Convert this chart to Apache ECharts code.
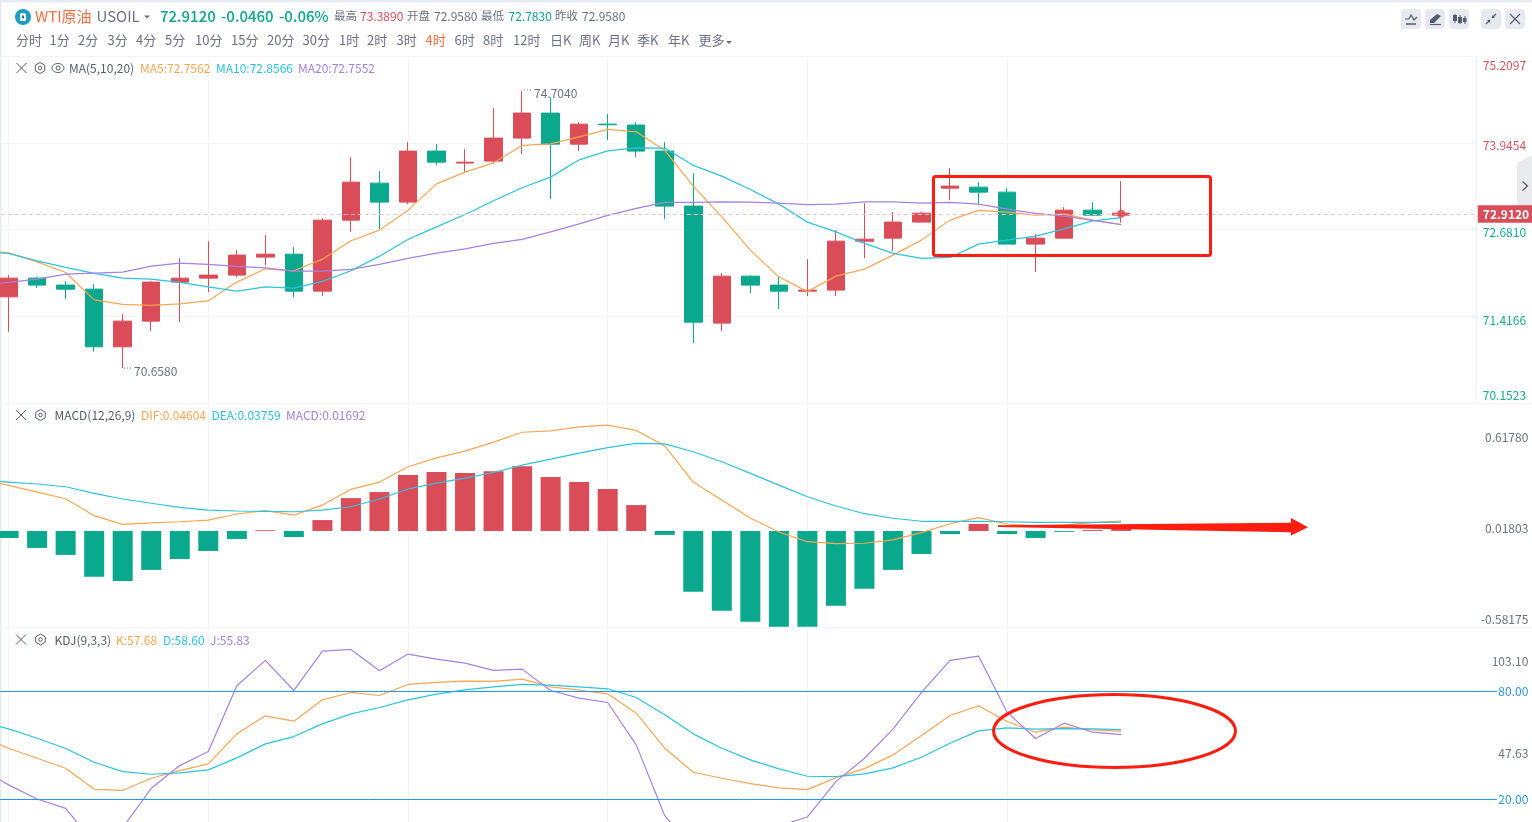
<!DOCTYPE html>
<html><head><meta charset="utf-8">
<style>html,body{margin:0;padding:0;background:#fff;overflow:hidden}#c{width:1532px;height:822px}</style>
<script src="https://cdn.jsdelivr.net/npm/echarts@6/dist/echarts.min.js"></script>
</head><body><div id="c"></div>
<script>
// ---------- data ----------
const opens  = [71.700,71.973,71.871,71.812,70.970,71.345,71.915,71.973,72.017,72.280,72.323,71.783,72.820,73.360,73.083,73.828,73.653,73.682,74.018,74.383,73.930,74.222,74.208,73.828,73.025,71.316,72.002,71.871,71.783,71.798,72.513,72.557,72.791,73.287,73.302,73.229,72.470,72.557,72.966,72.893];
const closes = [71.973,71.871,71.812,70.970,71.345,71.915,71.973,72.017,72.309,72.323,71.783,72.820,73.375,73.083,73.828,73.667,73.667,74.018,74.383,73.930,74.222,74.213,73.828,73.025,71.330,72.002,71.871,71.783,71.798,72.513,72.542,72.791,72.922,73.317,73.229,72.470,72.557,72.966,72.893,72.922];
const lows   = [71.189,71.831,71.666,70.897,70.658,71.199,71.330,71.768,71.988,72.163,71.695,71.710,72.645,72.689,73.054,73.623,73.521,73.653,73.784,73.127,73.828,73.988,73.740,72.835,71.024,71.199,71.754,71.520,71.710,71.710,72.265,72.367,72.791,73.112,73.054,72.470,72.061,72.557,72.893,72.783];
const highs  = [72.017,71.992,71.929,71.885,71.447,71.929,72.265,72.513,72.382,72.601,72.426,72.849,73.740,73.536,73.959,73.930,73.857,74.456,74.704,74.616,74.251,74.368,74.251,73.959,73.506,72.046,72.017,72.002,72.250,72.674,73.068,72.937,72.937,73.580,73.375,73.287,72.616,73.010,73.083,73.389];
// indicator lists start one bar before the first visible candle (off the left edge)
const ma5  = [72.382,72.342,72.211,72.056,71.656,71.589,71.574,71.598,71.641,71.915,72.109,72.080,72.250,72.518,72.674,72.966,73.350,73.521,73.657,73.911,73.934,74.037,74.145,74.110,73.838,73.317,72.868,72.382,71.992,71.776,72.002,72.104,72.309,72.528,72.820,72.962,72.937,72.893,72.908,72.820,72.756];
const ma10 = [72.360,72.334,72.226,72.129,72.042,71.973,71.958,71.910,71.846,71.783,71.846,71.827,71.925,72.080,72.294,72.538,72.722,72.903,73.102,73.292,73.448,73.701,73.832,73.876,73.872,73.619,73.463,73.268,73.054,72.791,72.649,72.480,72.334,72.261,72.275,72.470,72.528,72.586,72.693,72.810,72.857];
const ma20 = [71.871,71.910,71.958,72.031,72.046,72.061,72.148,72.192,72.173,72.144,72.123,72.075,72.075,72.100,72.173,72.261,72.338,72.401,72.480,72.538,72.649,72.766,72.889,72.991,73.079,73.079,73.087,73.083,73.068,73.046,73.054,73.087,73.087,73.068,73.079,73.054,72.981,72.918,72.878,72.816,72.755];
const dif  = [0.345,0.301,0.257,0.213,0.101,0.044,0.053,0.061,0.072,0.112,0.134,0.105,0.171,0.275,0.323,0.424,0.483,0.527,0.587,0.652,0.661,0.687,0.699,0.664,0.562,0.323,0.204,0.086,-0.007,-0.071,-0.084,-0.081,-0.059,-0.011,0.048,0.088,0.046,0.033,0.040,0.055,0.066];
const dea  = [0.336,0.323,0.310,0.292,0.248,0.211,0.183,0.156,0.138,0.132,0.130,0.127,0.138,0.160,0.211,0.277,0.316,0.349,0.386,0.435,0.474,0.514,0.550,0.578,0.575,0.523,0.457,0.380,0.303,0.226,0.165,0.114,0.084,0.064,0.064,0.064,0.061,0.057,0.057,0.057,0.059];
const macd = [-0.046,-0.112,-0.158,-0.303,-0.330,-0.257,-0.185,-0.132,-0.053,0.005,-0.040,0.072,0.217,0.257,0.369,0.389,0.382,0.395,0.428,0.356,0.323,0.277,0.171,-0.026,-0.402,-0.527,-0.600,-0.633,-0.633,-0.494,-0.382,-0.257,-0.152,-0.020,0.046,-0.020,-0.046,-0.006,0.006,0.01692];
const kK   = [54.8,48.33,42.78,37.22,25.56,25.0,31.67,35.93,39.63,56.30,66.30,63.33,75.19,79.26,77.59,83.70,84.81,85.56,85.37,86.67,82.41,80.56,78.52,67.78,48.33,35.0,31.67,28.70,26.30,25.37,32.04,37.04,44.63,55.37,66.48,71.85,63.15,57.22,60.0,58.52,57.68];
const kD   = [63.15,59.07,53.89,48.15,40.56,35.37,33.89,34.63,36.30,42.96,50.74,54.81,61.85,67.41,70.93,75.19,78.33,80.74,82.41,83.70,83.33,82.41,81.30,76.48,66.85,56.30,48.33,41.85,36.85,32.78,32.59,34.07,37.41,43.33,51.11,57.96,59.63,58.89,59.26,59.07,58.60];
const kJ   = [37.2,28.0,20.19,15.0,-4.44,4.26,26.11,38.70,46.48,82.96,97.04,80.37,102.22,103.15,91.30,100.56,97.78,95.56,91.48,92.22,80.37,76.11,73.70,50.19,10.93,-7.6,-1.66,2.4,5.2,10.19,29.81,42.78,58.89,79.26,97.04,99.44,68.33,53.70,62.22,57.22,55.83];
const priceTicks = [75.2097,73.9454,72.6810,71.4166,70.1523];
const macdTicks  = [0.61780,0.01803,-0.58175];
const kdjTicks   = [103.10,80.00,47.63,20.00];
const lastPrice = 72.9120, highPrice = 74.7040, lowPrice = 70.6580;
const periods = ['分时','1分','2分','3分','4分','5分','10分','15分','20分','30分','1时','2时','3时','4时','6时','8时','12时','日K','周K','月K','季K','年K','更多'];
const periodX = [16,49.5,78,107.5,136,165,195,231,267,302.5,339,367,396.5,425.5,454.5,483,513,550,579,608,637,668,698.5];

// ---------- styling ----------
const UP='#DB4C59', DOWN='#0AA88D', C1='#FFA552', C2='#2BC4E0', C3='#A582E6', GRAY='#6B7283', DARK='#555C6B', BLUE='#2196F3', GRID='#F3F4F7';
const FONT='"Noto Sans CJK SC","Noto Sans",sans-serif';
const XL=-34.2, XW=1512;
const categories = Array.from({length:53},(_,i)=>String(i));
const candleData = ['-'].concat(opens.map((o,i)=>[o,closes[i],lows[i],highs[i]]));
const macdData = ['-'].concat(macd);
const lastBar = categories[40];

function shifted(name,shift,color){ // label nudged down (+) / up (-) from its tick
  return {color,fontSize:12,fontFamily:FONT,padding: shift>=0?[shift*2,0,0,0]:[0,0,-shift*2,0]};
}
const priceShift=[8.8,2.6,2.6,4,-7.8], kdjShift=[11.5,0,3.5,0];
const priceRich={},kdjRich={};
priceTicks.forEach((t,i)=>priceRich['p'+i]=shifted('p'+i,priceShift[i],i<2?'#DB5560':'#17AB90'));
kdjTicks.forEach((t,i)=>kdjRich['k'+i]=shifted('k'+i,kdjShift[i],(t===80||t===20)?'#2A96F0':GRAY));

const xAxisBase = g=>({type:'category',gridIndex:g,data:categories,boundaryGap:true,
  axisLine:{show:false},axisTick:{show:false},axisLabel:{show:false},
  splitLine:{show:true,alignWithLabel:true,interval:i=>(i-1)%7===0&&i<40,lineStyle:{color:GRID,width:1}}});

const line=(name,data,color,x,y)=>({name,type:'line',data,xAxisIndex:x,yAxisIndex:y,symbol:'none',smooth:false,
  lineStyle:{color,width:1.2},silent:true,z:3});

// ---------- overlay text and icons ----------
const gfx=[];
function T(x,y,text,color,size,weight,align){gfx.push({type:'text',x,y,silent:true,z:20,style:{text,fill:color,font:(weight||'normal')+' '+(size||12)+'px '+FONT,textVerticalAlign:'middle',textAlign:align||'left'}});}
function L(x1,y1,x2,y2,color,w,dash,z){gfx.push({type:'line',silent:true,z:z||20,shape:{x1,y1,x2,y2},style:{stroke:color,lineWidth:w||1,lineDash:dash}});}
function caret(x,y,color){gfx.push({type:'polygon',silent:true,z:20,shape:{points:[[x,y],[x+6,y],[x+3,y+3]]},style:{fill:color}});}
function crossIcon(x,y){L(x-5,y-5,x+5,y+5,DARK,1);L(x+5,y-5,x-5,y+5,DARK,1);}
function hexIcon(x,y){const r=5.5,p=[];for(let i=0;i<6;i++){p.push([x+r*Math.sin(i*Math.PI/3),y-r*Math.cos(i*Math.PI/3)]);}
  gfx.push({type:'polygon',silent:true,z:20,shape:{points:p},style:{fill:'none',stroke:DARK,lineWidth:1}});
  gfx.push({type:'circle',silent:true,z:20,shape:{cx:x,cy:y,r:1.8},style:{fill:'none',stroke:DARK,lineWidth:1}});}
function eyeIcon(x,y){gfx.push({type:'ellipse',silent:true,z:20,shape:{cx:x,cy:y,rx:6,ry:4.5},style:{fill:'none',stroke:DARK,lineWidth:1}});
  gfx.push({type:'circle',silent:true,z:20,shape:{cx:x,cy:y,r:2},style:{fill:'none',stroke:DARK,lineWidth:1}});}

// frame bands
gfx.push({type:'rect',silent:true,z:1,shape:{x:0,y:0,width:1532,height:2.5},style:{fill:'#E6EAF1'}});
gfx.push({type:'rect',silent:true,z:1,shape:{x:0,y:0,width:1.5,height:822},style:{fill:'#E6EAF1'}});
L(0,403.5,1532,403.5,GRID,1,null,1); L(0,627.5,1532,627.5,GRID,1,null,1);
L(1476.5,56.5,1476.5,403,GRID,1,null,1);

// header
gfx.push({type:'circle',silent:true,z:20,shape:{cx:23,cy:17,r:8},style:{fill:'#1E9CC4'}});
gfx.push({type:'rect',silent:true,z:21,shape:{x:20,y:13,width:6,height:8,r:1.5},style:{fill:'#fff'}});
gfx.push({type:'rect',silent:true,z:22,shape:{x:22,y:15.5,width:2,height:3},style:{fill:'#1E7C9C'}});
T(35,16,'WTI原油','#FF6B3D',15);
T(96.5,16,'USOIL',GRAY,15);
caret(144,15.5,GRAY);
T(160,16,'72.9120','#0AA88D',15,500);
T(221,16,'-0.0460','#0AA88D',15,500);
T(279,16,'-0.06%','#0AA88D',15,500);
[[334,'最高',GRAY],[360,'73.3890','#DB4C59'],[407,'开盘',GRAY],[434,'72.9580',GRAY],[481,'最低',GRAY],[508.5,'72.7830','#0AA88D'],[555,'昨收',GRAY],[582,'72.9580',GRAY]]
 .forEach(a=>T(a[0],16,a[1],a[2],a[1].length===2?11.5:12));
periods.forEach((p,i)=>T(periodX[i],40.5,p,p==='4时'?'#FF6B3D':GRAY,13));
caret(726,41,GRAY);

// pane legends
crossIcon(21.5,68);hexIcon(40,68);eyeIcon(58,68);
T(69,68.5,'MA(5,10,20)',DARK,12);
T(140,68.5,'MA5:72.7562',C1,12);T(216,68.5,'MA10:72.8566',C2,12);T(298,68.5,'MA20:72.7552',C3,12);
crossIcon(21,415);hexIcon(40.5,415);
T(54.5,415.5,'MACD(12,26,9)',DARK,12);
T(141,415.5,'DIF:0.04604',C1,12);T(211.5,415.5,'DEA:0.03759',C2,12);T(286,415.5,'MACD:0.01692',C3,12);
crossIcon(21,639.5);hexIcon(40.5,639.5);
T(54.5,640,'KDJ(9,3,3)',DARK,12);
T(116,640,'K:57.68',C1,12);T(163,640,'D:58.60',C2,12);T(210,640,'J:55.83',C3,12);

// high / low tags
L(524,90,533,90,GRAY,1,[1,2]);T(534,93.5,'74.7040',GRAY,12);
L(124,368,133,368,GRAY,1,[1,2]);T(134,371.5,'70.6580',GRAY,12);

// toolbar
[1401,1425,1449,1481,1505].forEach(x=>gfx.push({type:'rect',silent:true,z:19,shape:{x,y:9,width:20,height:20,r:4},style:{fill:'#E6E9F0'}}));
gfx.push({type:'polyline',silent:true,z:20,shape:{points:[[1405,19],[1409,19],[1411,15],[1414,20],[1417,17]]},style:{fill:'none',stroke:DARK,lineWidth:1.2}});
L(1406,24,1416,24,DARK,1.5);
gfx.push({type:'polygon',silent:true,z:20,shape:{points:[[1430,20],[1437,14],[1441,16],[1434,23],[1430,23]]},style:{fill:DARK}});L(1430,24.5,1441,24.5,DARK,1.2);
L(1455,14,1455,23,DARK,1);gfx.push({type:'rect',silent:true,z:20,shape:{x:1453,y:15,width:4,height:6},style:{fill:DARK}});
L(1460,15,1460,24,DARK,1);gfx.push({type:'rect',silent:true,z:20,shape:{x:1458,y:17,width:4,height:6},style:{fill:DARK}});
L(1465,16,1465,24,DARK,1);gfx.push({type:'rect',silent:true,z:20,shape:{x:1463,y:18,width:3.5,height:4},style:{fill:DARK}});
L(1486,24,1490,20,DARK,1.3);L(1496,14,1492,18,DARK,1.3);
gfx.push({type:'polygon',silent:true,z:20,shape:{points:[[1490,20],[1487,20],[1490,23]]},style:{fill:DARK}});
gfx.push({type:'polygon',silent:true,z:20,shape:{points:[[1492,18],[1495,18],[1492,15]]},style:{fill:DARK}});
L(1510,14,1520,24,DARK,1.1);L(1520,14,1510,24,DARK,1.1);

// collapse tab
gfx.push({type:'polygon',silent:true,z:2,shape:{points:[[1517,163],[1532,155],[1532,224],[1517,216]]},style:{fill:'#E9EAED'}});
gfx.push({type:'polyline',silent:true,z:4,shape:{points:[[1522.5,181.5],[1527.5,186],[1522.5,190.5]]},style:{fill:'none',stroke:DARK,lineWidth:1.3}});

// red hand-drawn annotations
const RED='#FF1D0F';
gfx.push({type:'rect',silent:true,z:30,shape:{x:933.5,y:176.5,width:277,height:79,r:2},style:{fill:'none',stroke:RED,lineWidth:3}});
gfx.push({type:'ellipse',silent:true,z:30,shape:{cx:1114.5,cy:731,rx:121,ry:36.5},style:{fill:'none',stroke:RED,lineWidth:3}});
gfx.push({type:'polygon',silent:true,z:30,shape:{points:[[998,525.3],[1291,522.7],[1291,518],[1308,527.3],[1291,535.5],[1291,532.3],[998,527]]},style:{fill:RED}});

// ---------- chart ----------
const chart = echarts.init(document.getElementById('c'),null,{renderer:'canvas',width:1532,height:822});
chart.setOption({
  animation:false,backgroundColor:'#fff',tooltip:{show:false},
  textStyle:{fontFamily:FONT},
  grid:[
    {left:XL,width:XW,top:56.5,height:346.3,outerBoundsMode:'none'},
    {left:XL,width:XW,top:403.5,height:224,outerBoundsMode:'none'},
    {left:XL,width:XW,top:627.5,height:194.5,outerBoundsMode:'none'}
  ],
  xAxis:[xAxisBase(0),xAxisBase(1),xAxisBase(2)],
  yAxis:[
    {type:'value',gridIndex:0,position:'right',min:70.1523,max:75.2097,scale:true,
     axisLine:{show:false},
     axisTick:{show:false,customValues:priceTicks},
     splitLine:{show:true,lineStyle:{color:GRID,width:1}},
     axisLabel:{show:true,customValues:priceTicks,margin:5,rich:priceRich,
       formatter:v=>{const i=priceTicks.indexOf(v);return '{p'+i+'|'+v.toFixed(4)+'}';}}},
    {type:'value',gridIndex:1,position:'right',min:-0.6374,max:0.8417,
     axisLine:{show:false},axisTick:{show:false,customValues:macdTicks},splitLine:{show:false},
     axisLabel:{show:true,customValues:macdTicks,margin:50.5,align:'right',color:GRAY,fontSize:12,fontFamily:FONT,
       formatter:v=>v.toFixed(5)}},
    {type:'value',gridIndex:2,position:'right',min:7.41,max:115.3,
     axisLine:{show:false},axisTick:{show:true,customValues:[80,20],length:19,lineStyle:{color:BLUE,width:1}},splitLine:{show:false},
     axisLabel:{show:true,customValues:kdjTicks,margin:50.5,align:'right',rich:kdjRich,
       formatter:v=>{const i=kdjTicks.indexOf(v);return '{k'+i+'|'+v.toFixed(2)+'}';}}}
  ],
  graphic:{elements:gfx},
  series:[
    {name:'K线',type:'candlestick',xAxisIndex:0,yAxisIndex:0,data:candleData,barWidth:18,silent:true,z:2,
     itemStyle:{color:UP,color0:DOWN,borderColor:UP,borderColor0:DOWN,borderWidth:1},
     markLine:{silent:true,symbol:'none',animation:false,
       lineStyle:{color:'#F3C5C9',type:[4,3],width:1},
       label:{show:true,position:'end',distance:0,formatter:lastPrice.toFixed(4),color:'#fff',backgroundColor:UP,
         fontSize:12,fontWeight:'bold',fontFamily:FONT,padding:[2,4,2,5],lineHeight:13.5},
       data:[{yAxis:lastPrice}]}},
    line('MA5',ma5,C1,0,0),line('MA10',ma10,C2,0,0),line('MA20',ma20,C3,0,0),
    {name:'现价',type:'scatter',xAxisIndex:0,yAxisIndex:0,data:[[lastBar,lastPrice]],symbolSize:8,silent:true,z:6,
     itemStyle:{color:UP,opacity:0.85}},
    {name:'MACD',type:'bar',xAxisIndex:1,yAxisIndex:1,data:macdData,barWidth:20,silent:true,z:2,
     itemStyle:{color:p=>p.value>=0?UP:DOWN}},
    line('DIF',dif,C1,1,1),line('DEA',dea,C2,1,1),
    Object.assign(line('K',kK,C1,2,2),{markLine:{silent:true,symbol:'none',animation:false,label:{show:false},
      lineStyle:{color:BLUE,type:'solid',width:1},data:[{yAxis:80},{yAxis:20}]}}),
    line('D',kD,C2,2,2),line('J',kJ,C3,2,2)
  ]
});
</script></body></html>
